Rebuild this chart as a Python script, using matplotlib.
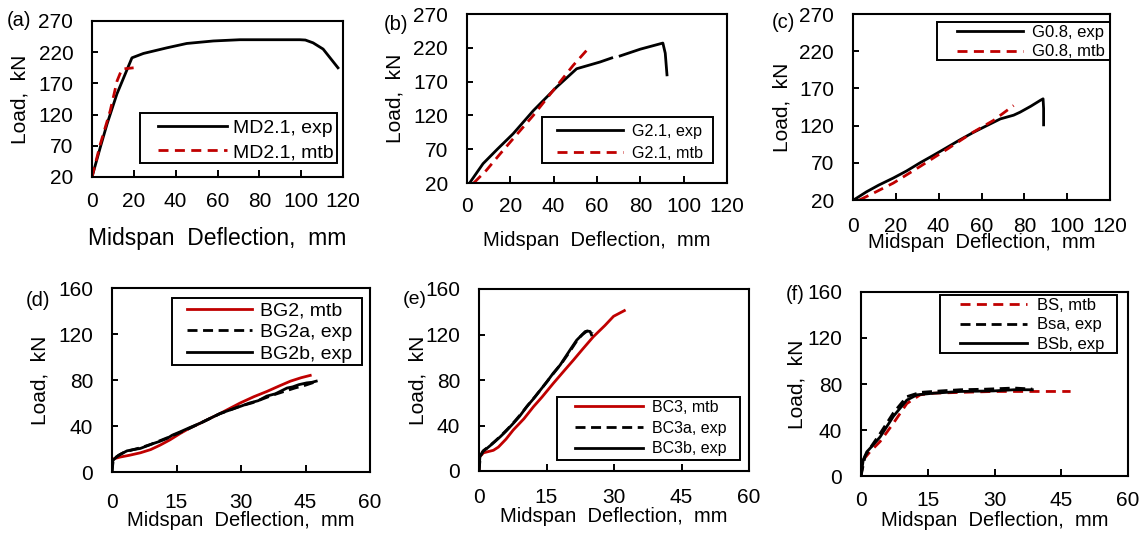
import numpy as np
import matplotlib
matplotlib.use("Agg")
import matplotlib.pyplot as plt
from matplotlib.patches import Rectangle

plt.rcParams["font.family"] = ["Liberation Sans", "DejaVu Sans"]

RED = "#C00000"
W, H = 1141, 534

# ---- (a) MD2.1 ----
md21_exp_x = [0, 4, 7.2, 11.9, 19.1, 24.6, 35.8, 45.3, 58, 70.7, 83.5, 99.4, 102, 105.7, 110.5, 117.6]
md21_exp_y = [20, 68, 105, 153, 211, 218, 227, 234, 238, 240, 240, 240, 239.5, 235, 225, 195]
md21_mtb_x = [0, 4, 8.7, 12, 14.3, 19.9]
md21_mtb_y = [20, 73, 126, 174, 193, 195]

# ---- (b) G2.1 (the test record has a gap between ~67 and ~71 mm) ----
g21_exp_x = [1.2, 7.4, 14, 21.3, 30.6, 41.4, 50.6, 56, 61.4, 66.8, np.nan, 70.7, 80, 90.4, 91.5, 92.3]
g21_exp_y = [20, 48.6, 70, 92.9, 127, 162, 189, 194, 199, 205, np.nan, 208, 218, 227, 212, 180]
g21_mtb_x = [3.1, 9, 15, 21.3, 30.6, 39.8, 49, 56]
g21_mtb_y = [20, 39, 62, 85.5, 120, 157, 194, 219]

# ---- (c) G0.8 ----
g08_exp_x = [0.3, 6.3, 12, 18.8, 25, 31.3, 37.5, 43.8, 50, 56.3, 62.5, 68.8, 75, 78, 83, 87.5, 88.75, 89, 89]
g08_exp_y = [20, 31, 40, 49.5, 59, 70, 80, 90.5, 101, 111, 120, 129, 134, 138, 146, 154, 156, 143, 121]
g08_mtb_x = [3, 9.4, 18.8, 31.3, 43.8, 56, 65.6, 75]
g08_mtb_y = [20, 29, 42.7, 65, 88, 111, 127, 147]

# ---- (d) BG2 ----
bg2_mtb_x = [0, 0.4, 1.9, 4, 6.6, 9, 11.2, 13.5, 15.9, 18, 20.5, 23, 25.2, 27.5, 29.8, 33, 36, 39, 41.5, 44, 46.1]
bg2_mtb_y = [9, 11.5, 13, 14.5, 16.7, 19.5, 23.4, 28, 33.6, 38, 42.4, 47, 51, 55.5, 60, 65.5, 70, 75, 79, 82, 84]
bg2a_exp_x = [0, 0.3, 1.5, 3, 5, 7, 9, 11, 13, 15, 17.5, 20, 22.5, 25, 27.5, 30, 32.5, 35, 37.5, 40, 42.5, 45, 47]
bg2a_exp_y = [0, 11, 14.5, 17.5, 19.5, 21.5, 24, 27, 30, 33, 37, 41.5, 46, 50.5, 54, 57.5, 60, 63.5, 67, 70, 73, 75.5, 78]
bg2b_exp_x = [0, 0.2, 1, 2, 3.5, 5, 6.6, 8, 9.7, 11, 12.8, 14, 15.9, 18, 20.5, 23, 25.2, 27.5, 29.8, 32, 34, 36, 38,
              40.7, 42, 43.5, 45.3, 46.5, 47.5]
bg2b_exp_y = [0, 10, 13, 15.5, 18.4, 19.5, 20.5, 22.5, 24.9, 26.5, 29.2, 32, 35, 38.5, 42.4, 47, 51, 54, 57, 60, 62, 66,
              68, 73, 74, 76, 77.5, 78, 79]

# ---- (e) BC3 ----
bc3_mtb_x = [0, 0.15, 1, 2, 3.2, 4.3, 6, 7.6, 10, 12.1, 14, 16.5, 19, 21, 23, 25.4, 28, 29.9, 32.3]
bc3_mtb_y = [0, 12.4, 16, 17, 18.2, 21, 28, 36, 46, 56.5, 65, 77, 88.5, 97.6, 107, 118, 128, 136, 141]
bc3a_exp_x = [0, 0.3, 1, 2, 3.5, 5, 6.5, 8, 9.5, 11, 12.5, 14, 15.5, 17, 18.5, 20, 21, 22, 23, 24, 24.6, 25.2]
bc3a_exp_y = [0, 13, 18, 21, 26, 31.5, 37.5, 44, 51, 58.5, 65.5, 73, 80.5, 88, 95.5, 104, 110, 116, 120, 123, 124, 121]
bc3b_exp_x = [0, 0.2, 0.8, 1.7, 3, 4.7, 6, 7.6, 9, 10.6, 12, 13.6, 15, 16.5, 18, 19.5, 20.5, 21.7, 22.7, 23.6, 24.2,
              24.7, 25]
bc3b_exp_y = [0, 12.4, 17, 19.7, 24, 30, 35, 41.8, 48, 56.5, 63, 71, 78, 86, 93, 102, 108, 115, 119, 122.6, 123,
              122.6, 119.7]

# ---- (f) BS ----
bs_mtb_x = [0, 0.5, 2, 4.3, 7.3, 10.3, 13.3, 16.3, 22.3, 29.8, 37.4, 47.1]
bs_mtb_y = [0, 14, 21, 30, 46, 63, 70.6, 72, 72.7, 73.5, 73.5, 73.5]
bsa_exp_x = [0, 0.9, 2, 4.3, 7.3, 10.3, 13.3, 18, 22.3, 28, 34.4, 38.5]
bsa_exp_y = [0, 17, 24, 37, 55, 69, 72.7, 74, 75, 75.5, 76.5, 75.6]
bsb_exp_x = [0, 0.5, 1.3, 2.5, 4.3, 7.3, 10.3, 12.6, 16.3, 22.3, 29.8, 34.4, 38.5]
bsb_exp_y = [0, 14, 21, 26, 34, 52, 66, 70.6, 72, 73.5, 74, 75, 75]

top_xticks = [0, 20, 40, 60, 80, 100, 120]
top_yticks = [20, 70, 120, 170, 220, 270]
bot_xticks = [0, 15, 30, 45, 60]
bot_yticks = [0, 40, 80, 120, 160]

XLABEL = "Midspan  Deflection,  mm"
YLABEL = "Load,  kN"

fig = plt.figure(figsize=(W / 100, H / 100), dpi=100)


def fx(px):
    return px / W


def fy(py):
    return 1 - py / H


def make_axes(l, r, t, b):
    return fig.add_axes([fx(l), fy(b), (r - l) / W, (b - t) / H])


def style(ax, xlim, ylim, xt, yt, xpad):
    ax.set_xlim(*xlim)
    ax.set_ylim(*ylim)
    ax.set_xticks(xt)
    ax.set_yticks(yt)
    for s in ax.spines.values():
        s.set_linewidth(1.5)
    ax.tick_params(direction="in", width=1.4, labelsize=15)
    ax.tick_params(axis="x", length=5, pad=xpad)
    ax.tick_params(axis="y", length=4, pad=13.5)


def labels(ax, box, xl_y, yl_x, xfs, yfs=15):
    l, r, t, b = box
    ax.set_xlabel(XLABEL, fontsize=xfs, va="center", ha="center")
    ax.set_ylabel(YLABEL, fontsize=yfs, va="center", ha="center")
    ax.xaxis.set_label_coords(0.5, (b - xl_y) / (b - t))
    ax.yaxis.set_label_coords((yl_x - l) / (r - l), 0.5)


def legend(ax, frame, start, fs, hl, tp, ls):
    """Legend entries anchored at `start` (px), framed by the rectangle `frame` (l, r, t, b in px)."""
    l, r, t, b = frame
    ax.add_patch(Rectangle((fx(l), fy(b)), (r - l) / W, (b - t) / H, transform=fig.transFigure,
                           facecolor="white", edgecolor="black", linewidth=1.4, clip_on=False, zorder=4))
    lg = ax.legend(loc="upper left", bbox_to_anchor=(fx(start[0]), fy(start[1])),
                   bbox_transform=fig.transFigure, fontsize=fs, handlelength=hl,
                   handletextpad=tp, labelspacing=ls, frameon=False, borderpad=0,
                   borderaxespad=0)
    lg.set_zorder(5)
    return lg


red_dash = dict(color=RED, lw=2.0, dashes=(3.6, 2.3))
blk_dash = dict(color="black", lw=2.0, dashes=(3.6, 2.0))
blk_solid = dict(color="black", lw=2.0)
red_solid = dict(color=RED, lw=2.0)

# (a)
box = (92, 343, 21, 177)
ax = make_axes(*box)
ax.plot(md21_exp_x, md21_exp_y, label="MD2.1, exp", **blk_solid)
ax.plot(md21_mtb_x, md21_mtb_y, label="MD2.1, mtb", **red_dash)
style(ax, (0, 120), (20, 270), top_xticks, top_yticks, 11)
labels(ax, box, 239, 20, 16.5)
legend(ax, (140, 337, 113, 163), (158, 119), 14, 3.55, 0.3, 0.36)
fig.text(fx(7), fy(21), "(a)", fontsize=14.5, va="center", ha="left")

# (b)
box = (467, 727, 14, 183)
ax = make_axes(*box)
ax.plot(g21_exp_x, g21_exp_y, label="G2.1, exp", **blk_solid)
ax.plot(g21_mtb_x, g21_mtb_y, label="G2.1, mtb", **red_dash)
style(ax, (0, 120), (20, 270), top_xticks, top_yticks, 10)
labels(ax, box, 240, 395, 14.5)
legend(ax, (542, 713, 117, 163), (557, 124), 11.6, 4.1, 0.56, 0.43)
fig.text(fx(384), fy(25), "(b)", fontsize=14.5, va="center", ha="left")

# (c)
box = (853, 1110, 14, 200)
ax = make_axes(*box)
ax.plot(g08_exp_x, g08_exp_y, label="G0.8, exp", **blk_solid)
ax.plot(g08_mtb_x, g08_mtb_y, label="G0.8, mtb", **red_dash)
style(ax, (0, 120), (20, 270), top_xticks, top_yticks, 12)
labels(ax, box, 243, 782, 14.5)
legend(ax, (937, 1110, 22, 60), (957, 25), 12, 3.95, 0.54, 0.27)
fig.text(fx(772), fy(22), "(c)", fontsize=14.5, va="center", ha="left")

# (d)
box = (112, 370, 288, 472)
ax = make_axes(*box)
ax.plot(bg2_mtb_x, bg2_mtb_y, label="BG2, mtb", **red_solid)
ax.plot(bg2a_exp_x, bg2a_exp_y, label="BG2a, exp", **blk_dash)
ax.plot(bg2b_exp_x, bg2b_exp_y, label="BG2b, exp", **blk_solid)
style(ax, (0, 60), (0, 160), bot_xticks, bot_yticks, 15)
labels(ax, box, 520, 40, 14.5)
legend(ax, (172, 362, 298, 365), (187, 302), 14, 3.35, 0.41, 0.2)
fig.text(fx(26), fy(300), "(d)", fontsize=14.5, va="center", ha="left")

# (e)
box = (479, 749, 289, 471)
ax = make_axes(*box)
ax.plot(bc3_mtb_x, bc3_mtb_y, label="BC3, mtb", **red_solid)
ax.plot(bc3a_exp_x, bc3a_exp_y, label="BC3a, exp", **blk_dash)
ax.plot(bc3b_exp_x, bc3b_exp_y, label="BC3b, exp", **blk_solid)
style(ax, (0, 60), (0, 160), bot_xticks, bot_yticks, 12)
labels(ax, box, 517, 418, 14.5)
legend(ax, (557, 740, 397, 460), (575, 400), 11.5, 4.25, 0.56, 0.36)
fig.text(fx(403), fy(300), "(e)", fontsize=14, va="center", ha="left")

# (f)
box = (861, 1128, 292, 476)
ax = make_axes(*box)
ax.plot(bs_mtb_x, bs_mtb_y, label="BS, mtb", **red_dash)
ax.plot(bsa_exp_x, bsa_exp_y, label="Bsa, exp", **blk_dash)
ax.plot(bsb_exp_x, bsb_exp_y, label="BSb, exp", **blk_solid)
style(ax, (0, 60), (0, 160), bot_xticks, bot_yticks, 10.5)
labels(ax, box, 520, 797, 14.5)
legend(ax, (940, 1117, 295, 353), (960, 298), 12, 4.0, 0.6, 0.27)
fig.text(fx(786), fy(294), "(f)", fontsize=14.5, va="center", ha="left")

fig.savefig("out.png", dpi=100)
